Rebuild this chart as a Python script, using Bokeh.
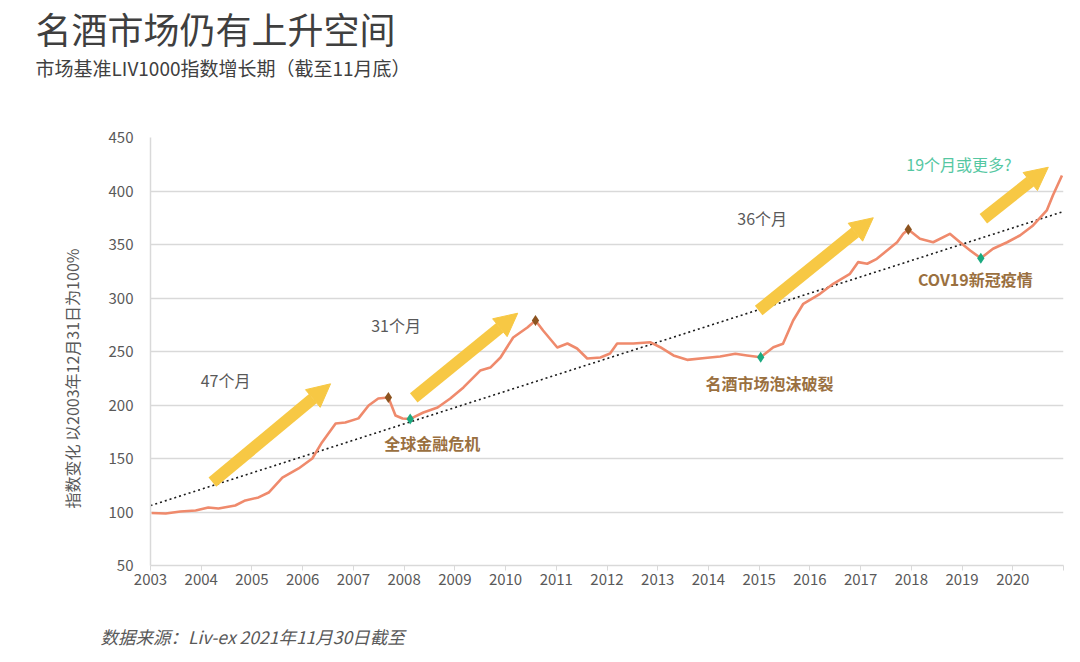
from bokeh.plotting import figure
from bokeh.models import Range1d, FixedTicker, Label, Arrow, NormalHead, ColumnDataSource, Title
from bokeh.embed import file_html
from bokeh.resources import INLINE

# ---------------- data ----------------
years = [2003.02, 2003.30, 2003.59, 2003.89, 2004.14, 2004.34, 2004.67, 2004.87, 2005.13, 2005.33,
         2005.60, 2005.92, 2006.19, 2006.38, 2006.65, 2006.84, 2007.10, 2007.30, 2007.49, 2007.69,
         2007.83, 2007.97, 2008.12, 2008.38, 2008.66, 2008.91, 2009.17, 2009.50, 2009.70, 2009.90,
         2010.15, 2010.43, 2010.59, 2010.74, 2011.02, 2011.22, 2011.41, 2011.61, 2011.87, 2012.06,
         2012.20, 2012.52, 2012.85, 2013.05, 2013.31, 2013.58, 2013.98, 2014.23, 2014.53, 2014.76,
         2015.03, 2015.28, 2015.47, 2015.67, 2015.87, 2016.20, 2016.46, 2016.79, 2016.95, 2017.13,
         2017.32, 2017.52, 2017.72, 2017.84, 2017.94, 2018.17, 2018.43, 2018.76, 2018.96, 2019.16,
         2019.37, 2019.61, 2019.89, 2020.14, 2020.40, 2020.67, 2020.79, 2020.97]
index_values = [99.0, 98.6, 100.5, 101.4, 104.2, 103.3, 106.1, 110.8, 113.6, 118.2,
                132.2, 140.7, 150.0, 165.0, 182.7, 183.6, 187.5, 199.5, 206.1, 207.0,
                190.2, 187.4, 187.0, 193.0, 197.7, 206.1, 216.4, 232.2, 235.0, 244.4,
                263.1, 272.4, 279.0, 269.6, 253.7, 257.5, 252.8, 243.5, 244.4, 248.1,
                257.5, 257.5, 258.7, 254.0, 246.3, 242.2, 244.1, 245.3, 247.9, 246.3,
                244.7, 254.0, 257.2, 279.0, 294.6, 303.9, 313.3, 322.6, 333.5, 332.0,
                336.6, 344.4, 352.1, 360.0, 364.0, 355.3, 352.1, 360.0, 352.1, 344.4,
                337.2, 346.0, 352.1, 358.4, 367.8, 381.8, 395.8, 414.5]

peak_years = [2007.69, 2010.59, 2017.94]
peak_values = [207.0, 279.0, 364.0]
trough_years = [2008.12, 2015.03, 2019.37]
trough_values = [187.0, 244.7, 337.2]

trend_years = [2003.0, 2021.0]
trend_values = [106.0, 380.8]

x_ticks = list(range(2003, 2022))
y_ticks = [50, 100, 150, 200, 250, 300, 350, 400, 450]
grid_ticks = [100, 150, 200, 250, 300, 350, 400]

title_text = "名酒市场仍有上升空间"
subtitle_text = "市场基准LIV1000指数增长期（截至11月底）"
ylabel_text = "指数变化 以2003年12月31日为100%"
source_text = "数据来源：Liv-ex 2021年11月30日截至"

FONT = "Noto Sans CJK SC"

# ---------------- figure ----------------
p = figure(width=1072, height=655, output_backend="svg", toolbar_location=None, title=None,
           x_range=Range1d(2003, 2021), y_range=Range1d(50, 450),
           min_border_left=150, min_border_right=9, min_border_top=137, min_border_bottom=90)
p.outline_line_color = None
p.background_fill_color = "white"
p.border_fill_color = "white"

p.xgrid.visible = False
p.ygrid.ticker = FixedTicker(ticks=grid_ticks)
p.ygrid.grid_line_color = "#D9D9D9"
p.ygrid.grid_line_width = 1.5

p.yaxis.ticker = FixedTicker(ticks=y_ticks)
p.yaxis.major_tick_out = 0
p.yaxis.major_tick_in = 0
p.yaxis.minor_tick_out = 0
p.yaxis.minor_tick_in = 0
p.yaxis.major_label_standoff = 17
p.yaxis.axis_line_color = "#D9D9D9"
p.yaxis.axis_line_width = 1.5

p.xaxis.ticker = FixedTicker(ticks=x_ticks)
p.xaxis.major_label_overrides = {2021: ""}
p.xaxis.major_tick_out = 5
p.xaxis.major_tick_in = 0
p.xaxis.minor_tick_out = 0
p.xaxis.minor_tick_in = 0
p.xaxis.major_tick_line_color = "#D9D9D9"
p.xaxis.major_label_standoff = 3
p.xaxis.axis_line_color = "#D9D9D9"
p.xaxis.axis_line_width = 1.5

for ax in (p.xaxis[0], p.yaxis[0]):
    ax.major_label_text_font = FONT
    ax.major_label_text_font_size = "15px"
    ax.major_label_text_color = "#595959"

# trend line
p.line(trend_years, trend_values, line_color="#1a1a1a", line_width=1.6, line_dash="2 3")

# arrows (tail x, tail y, tip x, tip y)
ARROW_COLOR = "#F7C844"
for (x0, y0, x1, y1) in [(2004.22, 127.9, 2006.55, 219.8),
                         (2008.19, 206.7, 2010.24, 285.8),
                         (2014.99, 288.3, 2017.25, 375.0),
                         (2019.42, 374.0, 2020.70, 422.2)]:
    p.add_layout(Arrow(end=NormalHead(size=23, fill_color=ARROW_COLOR, line_color=ARROW_COLOR, line_width=1),
                       x_start=x0, y_start=y0, x_end=x1, y_end=y1,
                       line_color=ARROW_COLOR, line_width=12, line_cap="butt"))

# index line
src = ColumnDataSource(dict(x=years, y=index_values))
p.line("x", "y", source=src, line_color="#EF8A6C", line_width=2.6, line_join="round")

# markers
p.scatter(peak_years, peak_values, marker="diamond", size=11, fill_color="#8C531F", line_color=None)
p.scatter(trough_years, trough_values, marker="diamond", size=11, fill_color="#1BAA80", line_color=None)

# in-plot annotations
def lab(x, y, text, color, size="16px", style="normal"):
    p.add_layout(Label(x=x, y=y, text=text, text_color=color, text_font=FONT,
                       text_font_size=size, text_font_style=style, text_align="left",
                       text_baseline="middle"))

GRAY = "#595959"
BROWN = "#9A7040"
lab(2003.99, 222.9, "47个月", GRAY)
lab(2007.35, 275.2, "31个月", GRAY)
lab(2014.57, 375.2, "36个月", GRAY)
lab(2017.90, 425.7, "19个月或更多?", "#55C7A2")
lab(2007.61, 164.9, "全球金融危机", BROWN, style="bold")
lab(2013.94, 221.0, "名酒市场泡沫破裂", BROWN, style="bold")
lab(2018.13, 318.2, "COV19新冠疫情", BROWN, style="bold")

# titles in side panels (first added = nearest the frame)
def side_title(text, side, size, color, offset=0, standoff=0, style="normal"):
    p.add_layout(Title(text=text, align="left", offset=offset, standoff=standoff,
                       text_font=FONT, text_font_size=size, text_color=color,
                       text_font_style=style, vertical_align="bottom"), side)

side_title(" ", "above", "10px", "white", standoff=40)
side_title(subtitle_text, "above", "19px", "#404040", offset=-115, standoff=0)
side_title(title_text, "above", "36px", "#3F3F3F", offset=-115, standoff=-4)

side_title(" ", "below", "10px", "white", standoff=17)
side_title(source_text, "below", "17.5px", GRAY, offset=-50, standoff=0, style="italic")

side_title(ylabel_text, "left", "16px", GRAY, offset=57, standoff=44)

open("out.html", "w").write(file_html(p, INLINE))
